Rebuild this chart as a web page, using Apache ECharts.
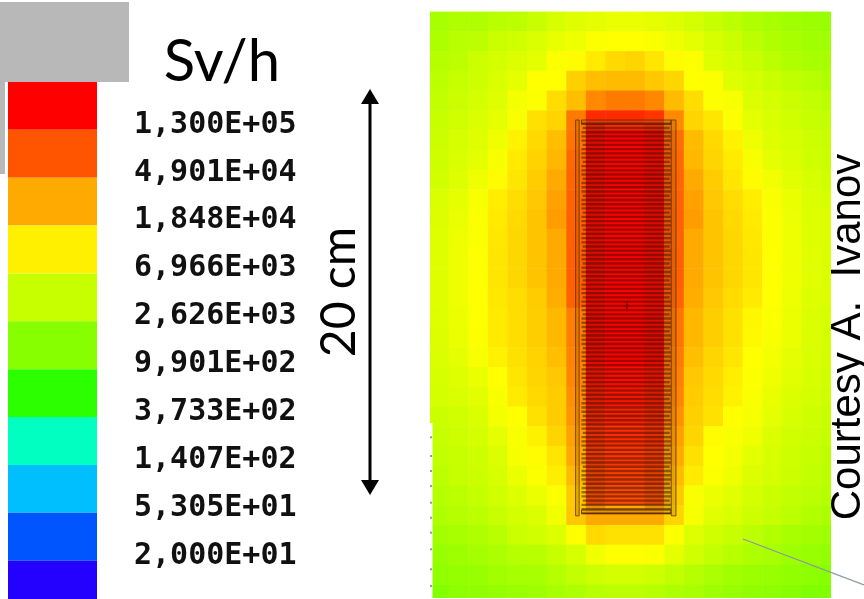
<!DOCTYPE html>
<html><head><meta charset="utf-8">
<style>html,body{margin:0;padding:0;background:#fff}#c{width:864px;height:599px}</style>
<script src="https://cdn.jsdelivr.net/npm/echarts@6/dist/echarts.min.js"></script>
</head><body><div id="c"></div>
<script>
// colour key
const legendLabels = ['1,300E+05','4,901E+04','1,848E+04','6,966E+03','2,626E+03','9,901E+02','3,733E+02','1,407E+02','5,305E+01','2,000E+01'];
const legendColors = ['#ff0000','#ff5500','#ffaa00','#fff000','#c8ff00','#88ff00','#2bff00','#00ffc0','#00bfff','#0055ff','#2400ff'];
const heatScale = ['#2bff00','#88ff00','#c8ff00','#ffff00','#ffaa00','#ff5500','#ff0000'];
// log10(dose rate, Sv/h) per cell, top row first
const doseLog10 = [
[3.50,3.55,3.55,3.60,3.62,3.70,3.80,3.87,3.92,3.95,3.95,3.92,3.85,3.78,3.68,3.62,3.55,3.50,3.45,3.42,3.40],
[3.53,3.60,3.62,3.72,3.76,3.82,3.93,3.99,4.08,4.10,4.10,4.08,3.98,3.90,3.80,3.72,3.62,3.55,3.50,3.45,3.45],
[3.58,3.62,3.72,3.78,3.84,3.90,4.08,4.12,4.20,4.28,4.30,4.22,4.12,4.08,3.86,3.78,3.70,3.62,3.55,3.50,3.50],
[3.62,3.68,3.74,3.82,3.92,4.10,4.10,4.32,4.40,4.42,4.42,4.36,4.30,4.10,4.08,3.86,3.78,3.72,3.65,3.60,3.55],
[3.66,3.72,3.78,3.86,4.02,4.08,4.26,4.40,4.65,4.72,4.72,4.66,4.42,4.26,4.08,4.05,3.84,3.78,3.72,3.66,3.62],
[3.70,3.76,3.82,3.92,4.06,4.24,4.30,4.72,5.10,5.10,5.10,5.05,4.65,4.30,4.22,4.08,3.90,3.82,3.76,3.70,3.66],
[3.72,3.80,3.86,3.98,4.16,4.28,4.40,4.75,5.25,5.30,5.30,5.25,4.78,4.42,4.28,4.16,3.98,3.86,3.80,3.74,3.70],
[3.74,3.82,3.90,4.04,4.20,4.31,4.44,4.80,5.25,5.30,5.30,5.25,4.80,4.44,4.30,4.20,4.05,3.92,3.84,3.76,3.72],
[3.76,3.86,3.99,4.12,4.22,4.34,4.50,4.82,5.25,5.30,5.30,5.25,4.82,4.50,4.34,4.22,4.12,4.00,3.88,3.80,3.75],
[3.82,3.92,4.04,4.18,4.26,4.36,4.54,4.83,5.25,5.30,5.30,5.25,4.83,4.54,4.36,4.26,4.18,4.06,3.95,3.84,3.80],
[3.84,3.95,4.07,4.20,4.28,4.38,4.56,4.84,5.25,5.30,5.30,5.25,4.84,4.56,4.38,4.28,4.20,4.08,3.97,3.86,3.82],
[3.86,3.97,4.08,4.21,4.29,4.38,4.50,4.84,5.25,5.30,5.30,5.25,4.84,4.50,4.38,4.29,4.21,4.08,3.97,3.87,3.83],
[3.87,3.98,4.09,4.22,4.29,4.38,4.50,4.85,5.25,5.30,5.30,5.25,4.85,4.50,4.38,4.29,4.22,4.09,3.98,3.88,3.84],
[3.87,3.98,4.09,4.22,4.29,4.38,4.50,4.85,5.25,5.30,5.30,5.25,4.85,4.50,4.38,4.29,4.22,4.09,3.98,3.88,3.84],
[3.87,3.98,4.09,4.21,4.26,4.34,4.48,4.84,5.25,5.30,5.30,5.25,4.84,4.48,4.36,4.27,4.20,4.09,3.97,3.86,3.82],
[3.86,3.96,4.09,4.20,4.26,4.33,4.44,4.70,5.25,5.30,5.30,5.25,4.75,4.44,4.33,4.24,4.14,4.07,3.96,3.84,3.80],
[3.84,3.95,4.08,4.20,4.26,4.33,4.44,4.70,5.25,5.30,5.30,5.25,4.75,4.44,4.33,4.24,4.13,4.06,3.95,3.84,3.79],
[3.82,3.92,4.05,4.16,4.24,4.31,4.40,4.68,5.25,5.30,5.30,5.25,4.72,4.40,4.30,4.22,4.10,4.02,3.92,3.82,3.78],
[3.80,3.86,3.95,4.10,4.22,4.30,4.36,4.66,5.20,5.25,5.25,5.20,4.70,4.36,4.28,4.18,4.08,3.98,3.88,3.80,3.76],
[3.78,3.82,3.88,4.06,4.20,4.28,4.34,4.62,5.15,5.20,5.20,5.15,4.68,4.34,4.26,4.16,4.06,3.94,3.84,3.78,3.74],
[3.72,3.76,3.82,4.02,4.10,4.24,4.34,4.60,5.10,5.15,5.15,5.10,4.62,4.32,4.24,4.10,4.04,3.90,3.80,3.74,3.70],
[3.68,3.74,3.78,3.92,4.06,4.16,4.30,4.54,5.05,5.10,5.10,5.05,4.55,4.30,4.12,4.06,3.98,3.84,3.76,3.72,3.68],
[3.66,3.70,3.74,3.84,4.04,4.12,4.22,4.50,5.00,5.05,5.05,5.00,4.50,4.24,4.10,4.02,3.90,3.80,3.74,3.68,3.64],
[3.62,3.68,3.72,3.80,3.96,4.08,4.18,4.42,4.95,5.00,5.00,4.95,4.42,4.20,4.08,3.98,3.84,3.78,3.72,3.66,3.62],
[3.58,3.62,3.68,3.76,3.86,3.96,4.08,4.35,4.90,4.95,4.95,4.90,4.36,4.06,3.96,3.88,3.78,3.72,3.66,3.62,3.58],
[3.54,3.58,3.62,3.70,3.78,3.84,4.00,4.36,4.50,4.50,4.50,4.50,4.30,4.05,3.88,3.82,3.74,3.68,3.62,3.56,3.52],
[3.47,3.50,3.55,3.60,3.72,3.76,3.86,4.10,4.28,4.24,4.24,4.24,4.08,3.86,3.76,3.70,3.62,3.56,3.50,3.46,3.44],
[3.40,3.44,3.48,3.52,3.58,3.60,3.68,3.80,4.00,4.10,4.10,4.08,3.92,3.75,3.66,3.60,3.54,3.50,3.44,3.40,3.37],
[3.35,3.38,3.40,3.46,3.50,3.50,3.58,3.66,3.74,3.78,3.78,3.74,3.66,3.58,3.52,3.46,3.42,3.40,3.36,3.33,3.30],
[3.28,3.33,3.36,3.38,3.42,3.44,3.50,3.54,3.60,3.62,3.62,3.60,3.54,3.50,3.44,3.40,3.36,3.34,3.30,3.26,3.26]
];
const cellData = [];
doseLog10.forEach((row, r) => row.forEach((v, c) => cellData.push([c, r, v])));
// detector outline, in map cells
const plateCount = 93;
const plates = Array.from({length: plateCount}, (_, i) => [i]);
const S = {xL0:7.48,xL1:7.66,xR0:12.36,xR1:12.60,plateX0:7.78,plateX1:12.34,yTop:5.49,yBot:25.54,plateY0:5.62,platePitch:0.2145};

function cellItem(params, api) {
  const c = api.value(0), r = api.value(1);
  const p = api.coord([c, r]), q = api.coord([c + 1, r + 1]);
  const shape = echarts.graphic.clipRectByRect(
    {x: p[0], y: p[1], width: q[0] - p[0] + 0.5, height: q[1] - p[1] + 0.5},
    {x: params.coordSys.x, y: params.coordSys.y, width: params.coordSys.width, height: params.coordSys.height});
  return shape && {type: 'rect', shape, style: {fill: api.visual('color')}};
}
function box(api, x0, y0, x1, y1, style) {
  const p = api.coord([x0, y0]), q = api.coord([x1, y1]);
  return {type: 'rect', shape: {x: p[0], y: p[1], width: q[0] - p[0], height: q[1] - p[1]}, style};
}
const plateStyle = {fill: 'rgba(60,15,0,0.5)'};
function plateItem(params, api) {
  const i = api.value(0), y = S.plateY0 + i * S.platePitch;
  const inset = i % 4 === 1 ? 0.06 : 0;
  return box(api, S.plateX0 + inset, y, S.plateX1 - inset, y + 0.12, plateStyle);
}
function frameItem(params, api) {
  const line = 'rgba(90,40,0,0.75)';
  const rail = {fill: 'rgba(150,90,0,0.25)', stroke: line, lineWidth: 1};
  const shade = {fill: 'rgba(50,0,0,0.14)'};
  return {type: 'group', children: [
    box(api, 8, 5.7, 9, 25.2, shade),
    box(api, 11, 5.7, 12.34, 25.2, shade),
    box(api, S.xL0, S.yTop, S.xL1, S.yBot, rail),
    box(api, S.xR0, S.yTop, S.xR1, S.yBot, rail),
    box(api, S.plateX0, S.yTop, S.plateX1, S.yTop + 0.2, rail),
    box(api, S.plateX0, S.yBot - 0.3, S.plateX1, S.yBot - 0.12, rail),
    box(api, 10.07, 14.67, 10.13, 15.07, {fill: 'rgba(70,0,0,0.8)'})
  ]};
}
function bandItem(params, api) {
  const r = api.value(0);
  const p = api.coord([0, r]), q = api.coord([1, r + 1]);
  const shape = echarts.graphic.clipRectByRect(
    {x: p[0], y: p[1], width: q[0] - p[0], height: q[1] - p[1]},
    {x: params.coordSys.x, y: params.coordSys.y, width: params.coordSys.width, height: params.coordSys.height});
  return shape && {type: 'rect', shape, style: {fill: legendColors[r]}};
}
const hidden = {show: false};
const stripMarks = [409,465,510,555,605,650,695,745,805,855].map(v => ({
  type: 'rect', z: 20, shape: {x: 430, y: 300 + v / 3, width: 2, height: 2}, style: {fill: '#999'}}));

const chart = echarts.init(document.getElementById('c'), null, {renderer: 'canvas'});
chart.setOption({
  animation: false,
  backgroundColor: '#ffffff',
  grid: [
    {left: 430, top: 10, width: 401, height: 588},
    {left: 8, top: 82, width: 89, height: 517}
  ],
  xAxis: [
    {type: 'value', gridIndex: 0, min: 0.05, max: 20.51, ...hidden},
    {type: 'value', gridIndex: 1, min: 0, max: 1, ...hidden}
  ],
  yAxis: [
    {type: 'value', gridIndex: 0, inverse: true, min: -0.08, max: 29.7, ...hidden},
    {type: 'value', gridIndex: 1, inverse: true, min: 0, max: 10.8, interval: 1, position: 'right',
      axisLine: hidden, axisTick: hidden, splitLine: hidden,
      axisLabel: {show: true, margin: 37, align: 'left', verticalAlign: 'bottom', lineHeight: 10,
        fontFamily: 'DejaVu Sans Mono', fontWeight: 'bold', fontSize: 30, color: '#111',
        formatter: v => legendLabels[v - 1] || ''}}
  ],
  visualMap: {show: false, type: 'continuous', min: 2.9, max: 5.3, dimension: 2, seriesIndex: 0, inRange: {color: heatScale}},
  series: [
    {type: 'custom', xAxisIndex: 0, yAxisIndex: 0, renderItem: cellItem, data: cellData, encode: {x: 0, y: 1}, silent: true},
    {type: 'custom', xAxisIndex: 0, yAxisIndex: 0, renderItem: frameItem, data: [[0]], z: 3, silent: true},
    {type: 'custom', xAxisIndex: 0, yAxisIndex: 0, renderItem: plateItem, data: plates, z: 4, silent: true},
    {type: 'custom', xAxisIndex: 1, yAxisIndex: 1, renderItem: bandItem, data: legendColors.map((_, i) => [i]), silent: true}
  ],
  graphic: [
    {type: 'rect', z: 20, shape: {x: 0, y: 2, width: 129, height: 80}, style: {fill: '#b8b8b8'}},
    {type: 'rect', z: 20, shape: {x: 0, y: 82, width: 5, height: 92}, style: {fill: '#b8b8b8'}},
    {type: 'rect', z: 19, shape: {x: 430, y: 423, width: 2.5, height: 176}, style: {fill: '#fff'}},
    ...stripMarks,
    {type: 'text', z: 20, x: 222, y: 91, style: {text: 'Sv/h', font: '58px Lato', fill: '#000', align: 'center', verticalAlign: 'bottom'}},
    {type: 'text', z: 20, x: 340, y: 292, rotation: Math.PI / 2, style: {text: '20 cm', font: '48px Lato', fill: '#000', align: 'center', verticalAlign: 'middle'}},
    {type: 'text', z: 20, x: 848, y: 337, rotation: Math.PI / 2, style: {text: 'Courtesy A.  Ivanov', font: '42px "Liberation Sans"', fill: '#000', align: 'center', verticalAlign: 'middle'}},
    {type: 'line', z: 20, shape: {x1: 370, y1: 100, x2: 370, y2: 484}, style: {stroke: '#000', lineWidth: 3}},
    {type: 'polygon', z: 20, shape: {points: [[370, 89], [379, 104], [361, 104]]}, style: {fill: '#000'}},
    {type: 'polygon', z: 20, shape: {points: [[370, 495], [379, 480], [361, 480]]}, style: {fill: '#000'}},
    {type: 'line', z: 21, shape: {x1: 743, y1: 539, x2: 864, y2: 585}, style: {stroke: '#8c96a3', lineWidth: 1.3}}
  ]
});
</script></body></html>
